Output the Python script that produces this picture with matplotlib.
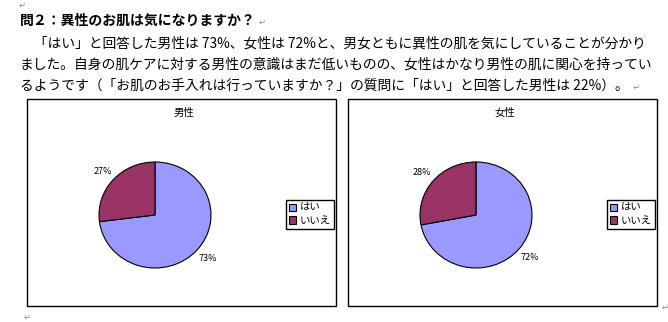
import matplotlib.pyplot as plt
from matplotlib.patches import Rectangle

plt.rcParams['font.family'] = ['Noto Sans CJK JP', 'DejaVu Sans']

# data
answers = ["はい", "いいえ"]
men = [73, 27]
women = [72, 28]
chart_titles = ["男性", "女性"]
colors = ["#9999FF", "#993366"]

heading = "問２：異性のお肌は気になりますか？"
body = [
    "　「はい」と回答した男性は 73%、女性は 72%と、男女ともに異性の肌を気にしていることが分かり",
    "ました。自身の肌ケアに対する男性の意識はまだ低いものの、女性はかなり男性の肌に関心を持ってい",
    "るようです（「お肌のお手入れは行っていますか？」の質問に「はい」と回答した男性は 22%）。",
]

W, H = 668, 322
fig = plt.figure(figsize=(W / 100, H / 100), dpi=100)


def fx(px):
    return px / W


def fy(py):
    return 1 - py / H


# paragraph text
fig.text(fx(20), fy(21), heading, fontsize=10, fontweight='bold', va='center', ha='left')
for i, line in enumerate(body):
    fig.text(fx(20), fy(44 + 21 * i), line, fontsize=9.95, va='center', ha='left')

# return marks
for x, y in [(22, 5), (262, 22), (636, 87), (27, 317), (665, 307)]:
    fig.text(fx(x), fy(y), "↵", fontsize=6, color="#888888", va='center', ha='center',
             family='DejaVu Sans')

# two chart boxes
boxes = [(27, 99, 336, 306), (348, 99, 657, 306)]
pie_cx = [155, 476]
legend_x = [286, 607]
for k, vals in enumerate([men, women]):
    x0, y0, x1, y1 = boxes[k]
    fig.patches.append(Rectangle((fx(x0), fy(y1)), fx(x1 - x0), (y1 - y0) / H,
                                 transform=fig.transFigure, fill=False,
                                 edgecolor='black', linewidth=1))
    fig.text(fx((x0 + x1) / 2 + 2), fy(113), chart_titles[k], fontsize=7.5,
             ha='center', va='center')

    cx, cy, rx, ry = pie_cx[k], 215, 56, 53
    ax = fig.add_axes([fx(cx - rx), fy(cy + ry), fx(2 * rx), 2 * ry / H])
    wedges, _, autotexts = ax.pie(vals, colors=colors, startangle=90, counterclock=False,
                                  autopct='%1.0f%%', pctdistance=1.25,
                                  wedgeprops=dict(edgecolor='black', linewidth=0.8),
                                  textprops=dict(fontsize=6.5))
    ax.set_aspect('auto')
    ax.set_xlim(-1, 1)
    ax.set_ylim(-1, 1)

    fig.legend(wedges, answers, loc='upper left',
               bbox_to_anchor=(fx(legend_x[k]), fy(200)), fontsize=7.5,
               frameon=True, fancybox=False, edgecolor='black', framealpha=1,
               handlelength=0.7, handleheight=0.7, handletextpad=0.3,
               borderpad=0.3, labelspacing=0.25, borderaxespad=0)

fig.savefig("out.png", dpi=100, facecolor='white')
